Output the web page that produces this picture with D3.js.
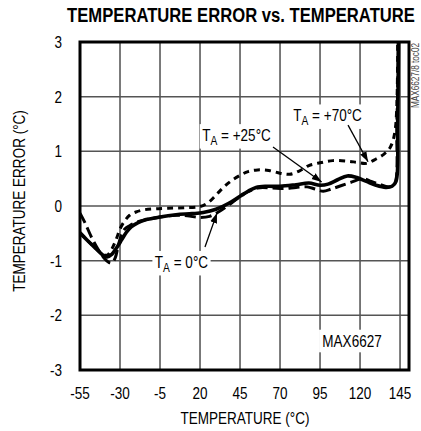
<!DOCTYPE html>
<html>
<head>
<meta charset="utf-8">
<script src="https://cdn.jsdelivr.net/npm/d3@7"></script>
<style>
  body { margin: 0; background: #fff; }
  text { font-family: "Liberation Sans", Arial, sans-serif; }
</style>
</head>
<body>
<script>
// x ticks / y ticks
var xTicks = [-55, -30, -5, 20, 45, 70, 95, 120, 145];
var yTicks = [-3, -2, -1, 0, 1, 2, 3];

// TA = +25C (solid)
var temp25 = [-55, -50, -45, -41, -38, -35, -32, -29, -26, -23, -19, -15, -10, -5, 5, 15, 22, 30, 38, 45, 50, 55, 62, 70, 80, 88, 95, 100, 106, 112, 118, 124, 130, 136, 140, 142.5, 143.5, 144];
var err25 = [-0.49, -0.64, -0.78, -0.89, -0.93, -0.88, -0.76, -0.62, -0.48, -0.38, -0.31, -0.26, -0.23, -0.2, -0.16, -0.14, -0.12, -0.06, 0.05, 0.18, 0.27, 0.34, 0.36, 0.36, 0.39, 0.42, 0.38, 0.4, 0.48, 0.55, 0.52, 0.45, 0.38, 0.34, 0.36, 0.45, 1.5, 3.0];

// TA = +70C (short dash)
var temp70 = [-55, -50, -45, -41, -38, -35, -32, -30, -27, -24, -20, -15, -8, 0, 10, 20, 25, 30, 35, 40, 45, 50, 56, 63, 70, 76, 82, 88, 95, 103, 112, 118, 124, 130, 135, 139, 142, 143.5];
var err70 = [-0.49, -0.64, -0.78, -0.88, -0.9, -0.78, -0.58, -0.42, -0.27, -0.17, -0.11, -0.07, -0.05, -0.04, -0.03, -0.01, 0.06, 0.2, 0.35, 0.47, 0.56, 0.63, 0.66, 0.65, 0.6, 0.58, 0.64, 0.74, 0.79, 0.83, 0.82, 0.8, 0.78, 0.86, 0.95, 1.08, 1.4, 3.0];

// TA = 0C (long dash)
var temp0 = [-55, -52, -48, -44, -40, -37, -35, -33, -31, -29, -27, -24, -20, -15, -10, -5, 5, 12, 20, 26, 32, 38, 44, 50, 56, 65, 72, 80, 87, 92, 97, 102, 108, 115, 122, 127, 132, 138, 141.5, 143, 144];
var err0 = [-0.13, -0.3, -0.56, -0.78, -0.95, -1.03, -1.04, -0.95, -0.71, -0.52, -0.42, -0.36, -0.3, -0.26, -0.23, -0.2, -0.17, -0.18, -0.21, -0.19, -0.1, 0.02, 0.15, 0.26, 0.33, 0.33, 0.32, 0.34, 0.35, 0.31, 0.27, 0.31, 0.37, 0.44, 0.5, 0.45, 0.4, 0.35, 0.4, 1.5, 3.0];

var width = 421, height = 431;
var margin = {left: 80, right: 12, top: 42, bottom: 61};
var narrow = 0.82; // fake Helvetica Narrow

var svg = d3.select("body").append("svg")
  .attr("width", width)
  .attr("height", height);

var x = d3.scaleLinear().domain([-55, 150.6]).range([margin.left, width - margin.right]);
var y = d3.scaleLinear().domain([-3, 3]).range([height - margin.bottom, margin.top]);

function ntext(px, py, size, anchor, rot) {
  var g = svg.append("g")
    .attr("transform", "translate(" + px + "," + py + ")" + (rot ? " rotate(" + rot + ")" : "") + " scale(" + narrow + ",1)");
  return g.append("text")
    .attr("text-anchor", anchor)
    .attr("font-size", size);
}

var defs = svg.append("defs");
defs.append("clipPath").attr("id", "plot")
  .append("rect")
  .attr("x", x(-55)).attr("y", y(3))
  .attr("width", x(150.6) - x(-55)).attr("height", y(-3) - y(3));

defs.append("marker")
  .attr("id", "arrow")
  .attr("viewBox", "0 0 10 10")
  .attr("refX", 10).attr("refY", 5)
  .attr("markerWidth", 10).attr("markerHeight", 10)
  .attr("markerUnits", "userSpaceOnUse")
  .attr("orient", "auto")
  .append("path")
  .attr("d", "M0,1.5 L10,5 L0,8.5 Z")
  .attr("fill", "#000");

// grid
svg.append("g").selectAll("line")
  .data(xTicks.slice(1))
  .enter().append("line")
  .attr("x1", d => x(d)).attr("x2", d => x(d))
  .attr("y1", y(3)).attr("y2", y(-3))
  .attr("stroke", "#333").attr("stroke-width", 1.3);

svg.append("g").selectAll("line")
  .data(yTicks.slice(1, -1))
  .enter().append("line")
  .attr("x1", x(-55)).attr("x2", x(150.6))
  .attr("y1", d => y(d)).attr("y2", d => y(d))
  .attr("stroke", "#555").attr("stroke-width", 1.5);

// tick labels
xTicks.forEach(function(d) {
  ntext(x(d), y(-3) + 29, 16.5, "middle").text(d);
});
yTicks.forEach(function(d) {
  ntext(margin.left - 18, y(d) + 6, 16.5, "end").text(d);
});

// axis titles
ntext(245, 424, 16.5, "middle").text("TEMPERATURE (°C)");
ntext(25, 201, 16.5, "middle", -90).text("TEMPERATURE ERROR (°C)");
ntext(419, 43, 10, "end", -90).attr("fill", "#444").text("MAX6627/8 toc02");

// title, squeezed to the reference width
var tg = svg.append("g");
var tt = tg.append("text")
  .attr("text-anchor", "middle")
  .attr("font-size", 21).attr("font-weight", "bold")
  .text("TEMPERATURE ERROR vs. TEMPERATURE");
var tlen = tt.node().getComputedTextLength();
tg.attr("transform", "translate(241,21.5) scale(" + (348 / tlen) + ",1)");

// curves
var line = d3.line()
  .x(d => x(d[0])).y(d => y(d[1]))
  .curve(d3.curveCatmullRom.alpha(0.5));

var series = [
  {t: temp0, e: err0, dash: "11,5", w: 3},
  {t: temp70, e: err70, dash: "6,5", w: 3},
  {t: temp25, e: err25, dash: null, w: 3.6}
];

var curves = svg.append("g").attr("clip-path", "url(#plot)");
series.forEach(function(s) {
  curves.append("path")
    .datum(d3.zip(s.t, s.e))
    .attr("d", line)
    .attr("fill", "none")
    .attr("stroke", "#000")
    .attr("stroke-width", s.w)
    .attr("stroke-dasharray", s.dash);
});

// annotations
var notes = [
  {label: "+70°C", at: [99.7, 1.66], from: [112.5, 1.48], to: [125, 0.81]},
  {label: "+25°C", at: [42.8, 1.30], from: [65.6, 1.08], to: [96, 0.44]},
  {label: "0°C", at: [8.4, -1.02], from: [23.1, -0.75], to: [30.6, -0.13]}
];

function boxed(t, pad) {
  var bb = t.node().getBBox();
  d3.select(t.node().parentNode).insert("rect", "text")
    .attr("x", bb.x - pad).attr("y", bb.y - pad / 2)
    .attr("width", bb.width + 2 * pad).attr("height", bb.height + pad)
    .attr("fill", "#fff");
}

notes.forEach(function(n) {
  var t = ntext(x(n.at[0]), y(n.at[1]) + 6, 16.5, "middle");
  t.append("tspan").text("T");
  t.append("tspan").attr("font-size", 12.5).attr("dy", 4).text("A");
  t.append("tspan").attr("dy", -4).text(" = " + n.label);
  boxed(t, 3);
  svg.append("line")
    .attr("x1", x(n.from[0])).attr("y1", y(n.from[1]))
    .attr("x2", x(n.to[0])).attr("y2", y(n.to[1]))
    .attr("stroke", "#000").attr("stroke-width", 1.3)
    .attr("marker-end", "url(#arrow)");
});

var mt = ntext(x(115), y(-2.47) + 6, 16.5, "middle").text("MAX6627");
boxed(mt, 4);

// frame
svg.append("rect")
  .attr("x", x(-55)).attr("y", y(3))
  .attr("width", x(150.6) - x(-55)).attr("height", y(-3) - y(3))
  .attr("fill", "none").attr("stroke", "#000").attr("stroke-width", 3);
</script>
</body>
</html>
